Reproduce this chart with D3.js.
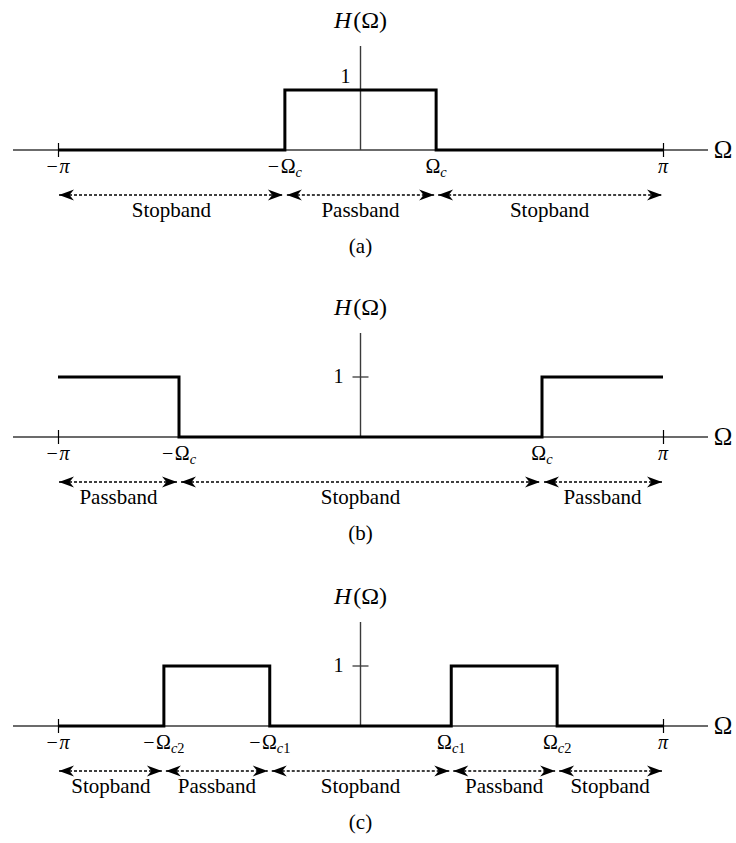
<!DOCTYPE html>
<html>
<head>
<meta charset="utf-8">
<script src="https://cdn.jsdelivr.net/npm/d3@7"></script>
<style>
  body { margin: 0; background: #fff; }
  svg { display: block; font-family: "Liberation Serif", "Times New Roman", serif; }
</style>
</head>
<body>
<div id="chart"></div>
<script>
// frequencies are in units of pi
const captions = ["(a)", "(b)", "(c)"]

const lowpassOmega = [-1, -0.25, -0.25, 0.25, 0.25, 1]
const lowpassH     = [0, 0, 1, 1, 0, 0]
const lowpassTicks = [-1, -0.25, 0.25, 1]
const lowpassTickLabels = ["−π", "−Ω_c", "Ω_c", "π"]
const lowpassBands = ["Stopband", "Passband", "Stopband"]

const highpassOmega = [-1, -0.6, -0.6, 0.6, 0.6, 1]
const highpassH     = [1, 1, 0, 0, 1, 1]
const highpassTicks = [-1, -0.6, 0.6, 1]
const highpassTickLabels = ["−π", "−Ω_c", "Ω_c", "π"]
const highpassBands = ["Passband", "Stopband", "Passband"]

const bandpassOmega = [-1, -0.65, -0.65, -0.3, -0.3, 0.3, 0.3, 0.65, 0.65, 1]
const bandpassH     = [0, 0, 1, 1, 0, 0, 1, 1, 0, 0]
const bandpassTicks = [-1, -0.65, -0.3, 0.3, 0.65, 1]
const bandpassTickLabels = ["−π", "−Ω_c2", "−Ω_c1", "Ω_c1", "Ω_c2", "π"]
const bandpassBands = ["Stopband", "Passband", "Stopband", "Passband", "Stopband"]

const width = 736, height = 843
const axisYs = [150, 437, 726]

const panels = [
  {omega: lowpassOmega, h: lowpassH, ticks: lowpassTicks, labels: lowpassTickLabels, bands: lowpassBands},
  {omega: highpassOmega, h: highpassH, ticks: highpassTicks, labels: highpassTickLabels, bands: highpassBands},
  {omega: bandpassOmega, h: bandpassH, ticks: bandpassTicks, labels: bandpassTickLabels, bands: bandpassBands}
]

const x = d3.scaleLinear().domain([-1, 1]).range([58, 663])

const svg = d3.select("#chart").append("svg")
  .attr("width", width)
  .attr("height", height)
  .attr("viewBox", [0, 0, width, height])

const defs = svg.append("defs")
defs.append("marker")
  .attr("id", "head")
  .attr("markerUnits", "userSpaceOnUse")
  .attr("viewBox", "-16 -7 17 14")
  .attr("refX", 0).attr("refY", 0)
  .attr("markerWidth", 17).attr("markerHeight", 14)
  .attr("orient", "auto-start-reverse")
  .append("path")
  .attr("d", "M0,0 L-15,-5.4 L-10.5,0 L-15,5.4 Z")
  .attr("fill", "#000")

// writes "−Ω_c1" style strings as tspans (pi and c italic, subscript after _)
function mathText(text, str) {
  const [main, sub] = str.split("_")
  for (const ch of main) {
    text.append("tspan")
      .attr("font-style", ch === "π" ? "italic" : "normal")
      .attr("dx", ch === "−" ? 0 : (main[0] === "−" ? 1.5 : 0))
      .text(ch)
  }
  if (sub) {
    const fs = parseFloat(text.attr("font-size")) * 0.72
    text.append("tspan").attr("dy", 4).attr("font-size", fs)
      .attr("font-style", "italic").text(sub[0])
    if (sub.length > 1)
      text.append("tspan").attr("font-size", fs).text(sub.slice(1))
  }
}

panels.forEach((p, i) => {
  const y0 = axisYs[i]
  const y = d3.scaleLinear().domain([0, 1]).range([y0, y0 - 60])
  const g = svg.append("g")

  // horizontal axis
  g.append("line")
    .attr("x1", x(-1) - 45).attr("x2", x(1) + 45)
    .attr("y1", y(0)).attr("y2", y(0))
    .attr("stroke", "#3a3a3a").attr("stroke-width", 1.4)

  // vertical axis
  g.append("line")
    .attr("x1", x(0)).attr("x2", x(0))
    .attr("y1", y(0)).attr("y2", y0 - 104)
    .attr("stroke", "#3a3a3a").attr("stroke-width", 1.4)

  // ticks at +-pi
  const ax = g.append("g")
    .attr("transform", `translate(0,${y(0)})`)
    .call(d3.axisBottom(x).tickValues([-1, 1]).tickSize(7).tickFormat(""))
  ax.select(".domain").remove()
  ax.selectAll(".tick line").attr("y1", -7).attr("stroke", "#000").attr("stroke-width", 1.2)

  // tick labels
  p.ticks.forEach((t, k) => {
    const txt = g.append("text")
      .attr("x", x(t)).attr("y", y0 + 23)
      .attr("text-anchor", "middle")
      .attr("font-size", 20)
    mathText(txt, p.labels[k])
  })

  // level "1"
  const hAtZero = p.h[d3.bisectLeft(p.omega, 0)]
  if (hAtZero === 1) {
    g.append("text")
      .attr("x", x(0) - 10).attr("y", y(1) - 7)
      .attr("text-anchor", "end").attr("font-size", 20)
      .text("1")
  } else {
    g.append("line")
      .attr("x1", x(0) - 8).attr("x2", x(0) + 8)
      .attr("y1", y(1)).attr("y2", y(1))
      .attr("stroke", "#3a3a3a").attr("stroke-width", 1.3)
    g.append("text")
      .attr("x", x(0) - 17).attr("y", y(1) + 6)
      .attr("text-anchor", "end").attr("font-size", 20)
      .text("1")
  }

  // axis titles
  const ht = g.append("text")
    .attr("x", x(0)).attr("y", y0 - 122)
    .attr("text-anchor", "middle").attr("font-size", 24)
  ht.append("tspan").attr("font-style", "italic").text("H")
  ht.append("tspan").attr("dx", 2).text("(Ω)")

  g.append("text")
    .attr("x", x(1) + 60).attr("y", y0 + 8)
    .attr("text-anchor", "middle").attr("font-size", 25)
    .text("Ω")

  // response
  const line = d3.line()
    .x((d, k) => x(d))
    .y((d, k) => y(p.h[k]))
  g.append("path")
    .datum(p.omega)
    .attr("fill", "none")
    .attr("stroke", "#000")
    .attr("stroke-width", 3)
    .attr("stroke-linejoin", "miter")
    .attr("d", line)

  // band arrows
  p.bands.forEach((b, k) => {
    const a = p.ticks[k], c = p.ticks[k + 1]
    g.append("line")
      .attr("x1", x(a) + (k === 0 ? 1 : 2)).attr("x2", x(c) - (k === p.bands.length - 1 ? 1 : 2))
      .attr("y1", y0 + 45).attr("y2", y0 + 45)
      .attr("stroke", "#000").attr("stroke-width", 1.3)
      .attr("stroke-dasharray", "3,2")
      .attr("marker-start", "url(#head)")
      .attr("marker-end", "url(#head)")
    g.append("text")
      .attr("x", (x(a) + x(c)) / 2).attr("y", y0 + 67)
      .attr("text-anchor", "middle").attr("font-size", 21)
      .text(b)
  })

  g.append("text")
    .attr("x", x(0)).attr("y", y0 + 103)
    .attr("text-anchor", "middle").attr("font-size", 21)
    .text(captions[i])
})
</script>
</body>
</html>
